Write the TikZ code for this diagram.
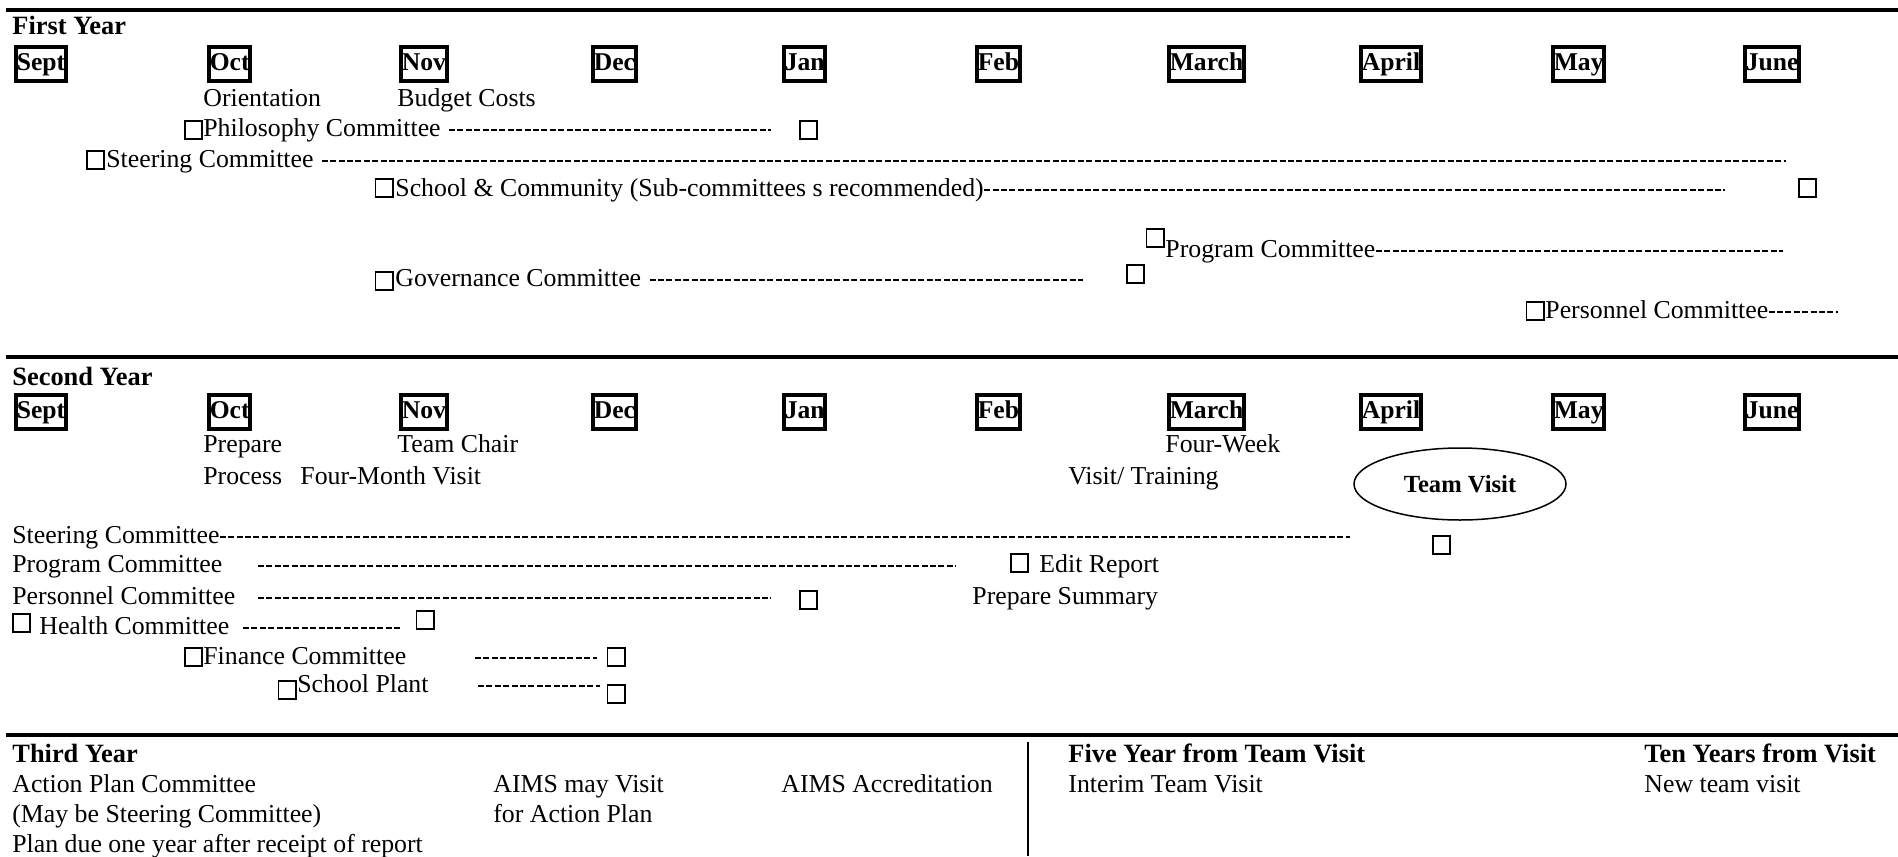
\documentclass[tikz,border=0pt]{standalone}
\usepackage{fontspec}
\setmainfont{Liberation Serif}
\usetikzlibrary{shapes.geometric, positioning}

\begin{document}
\begin{tikzpicture}[x=0.5pt, y=-0.5pt,
  every node/.style={font=\fontsize{12.9}{15}\selectfont},
  lbl/.style={anchor=base west, inner sep=0pt, text height=8pt, text depth=2pt},
  head/.style={lbl, font=\fontsize{13.2}{16}\selectfont\bfseries},
  month/.style={draw, line width=2pt, anchor=west, inner xsep=0.4pt, inner ysep=0pt, minimum height=17pt, text height=9pt, text depth=2.5pt, font=\fontsize{12.8}{15}\selectfont\bfseries},
  chk/.style={draw, line width=0.9pt, minimum width=8.6pt, minimum height=9pt, inner sep=0pt},
  dashes/.style={line width=0.55pt, dash pattern=on 3pt off 1.2pt},
  rule/.style={line width=2.2pt}]
\useasboundingbox (0,0) rectangle (1898,856);

% First year
\draw[rule] (6,10) -- (1898,10);
\node[head] (year1) at (12,35) {First Year};

% Months
\node[month] (sept1) at (14,64) {Sept};
\node[month] (oct1) at (207,64) {Oct};
\node[month] (nov1) at (399,64) {Nov};
\node[month] (dec1) at (591,64) {Dec};
\node[month] (jan1) at (782,64) {Jan};
\node[month] (feb1) at (975,64) {Feb};
\node[month] (mar1) at (1167,64) {March};
\node[month] (apr1) at (1359,64) {April};
\node[month] (may1) at (1551,64) {May};
\node[month] (jun1) at (1743,64) {June};

\node[lbl] (orient) at (203,106) {Orientation};
\node[lbl] (budget) at (397,106) {Budget Costs};

% Committees
\node[chk] (philA) at (193.5,130) {};
\node[lbl] (phil) at (203,136) {Philosophy Committee};
\node[chk] (philB) at (808.5,130) {};
\coordinate (philend) at (771,0);
\draw[dashes] ([xshift=4pt]phil.east) -- (phil.east -| philend);

\node[chk] (steerA) at (95.5,160) {};
\node[lbl] (steer1) at (106,167) {Steering Committee};
\coordinate (steer1end) at (1786,0);
\draw[dashes] ([xshift=4pt]steer1.east) -- (steer1.east -| steer1end);

\node[chk] (schoolA) at (384,188) {};
\node[lbl] (school) at (395,196) {School \& Community (Sub-committees s recommended)};
\node[chk] (schoolB) at (1807.5,188) {};
\coordinate (schoolend) at (1725,0);
\draw[dashes] (school.east) -- (school.east -| schoolend);

\node[chk] (progA) at (1155,238) {};
\node[lbl] (prog1) at (1165,257) {Program Committee};
\coordinate (prog1end) at (1783,0);
\draw[dashes] (prog1.east) -- (prog1.east -| prog1end);

\node[chk] (govA) at (384,281) {};
\node[lbl] (gov) at (395,286) {Governance Committee};
\node[chk] (govB) at (1135.5,274) {};
\coordinate (govend) at (1083,0);
\draw[dashes] ([xshift=4pt]gov.east) -- (gov.east -| govend);

\node[chk] (persA) at (1535,311) {};
\node[lbl] (pers1) at (1545,318) {Personnel Committee};
\coordinate (pers1end) at (1838,0);
\draw[dashes] (pers1.east) -- (pers1.east -| pers1end);

% Second year
\draw[rule] (6,357) -- (1898,357);
\node[head] (year2) at (12,385) {Second Year};

% Months
\node[month] (sept2) at (14,412) {Sept};
\node[month] (oct2) at (207,412) {Oct};
\node[month] (nov2) at (399,412) {Nov};
\node[month] (dec2) at (591,412) {Dec};
\node[month] (jan2) at (782,412) {Jan};
\node[month] (feb2) at (975,412) {Feb};
\node[month] (mar2) at (1167,412) {March};
\node[month] (apr2) at (1359,412) {April};
\node[month] (may2) at (1551,412) {May};
\node[month] (jun2) at (1743,412) {June};

\node[lbl] (prepare) at (203,452) {Prepare};
\node[lbl] (teamchair) at (397,452) {Team Chair};
\node[lbl] (fourweek) at (1165,452) {Four-Week};
\node[lbl] (process) at (203,484) {Process};
\node[lbl] (fourmonth) at (300,484) {Four-Month Visit};
\node[lbl] (training) at (1068,484) {Visit/ Training};

% Team visit
\node[draw, ellipse, line width=0.75pt, minimum width=106pt, minimum height=36pt, font=\fontsize{12.3}{15}\selectfont\bfseries] (teamvisit) at (1460,484) {Team Visit};

% Committees
\node[lbl] (steer2) at (12,543) {Steering Committee};
\node[chk] (steer2B) at (1441.5,545) {};
\coordinate (steer2end) at (1350,0);
\draw[dashes] (steer2.east) -- (steer2.east -| steer2end);

\node[lbl] (prog2) at (12,572) {Program Committee};
\node[chk] (prog2B) at (1019.5,563) {};
\node[lbl] (edit) at (1039,572) {Edit Report};
\coordinate (prog2a) at (258,0);
\coordinate (prog2end) at (956,0);
\draw[dashes] (prog2.east -| prog2a) -- (prog2.east -| prog2end);

\node[lbl] (pers2) at (12,604) {Personnel Committee};
\node[chk] (pers2B) at (808.5,600) {};
\node[lbl] (summary) at (972,604) {Prepare Summary};
\coordinate (pers2a) at (258,0);
\coordinate (pers2end) at (771,0);
\draw[dashes] (pers2.east -| pers2a) -- (pers2.east -| pers2end);

\node[chk] (healthA) at (21.5,623) {};
\node[lbl] (health) at (39,634) {Health Committee};
\node[chk] (healthB) at (425,620) {};
\coordinate (healtha) at (243,0);
\coordinate (healthend) at (400,0);
\draw[dashes] (health.east -| healtha) -- (health.east -| healthend);

\node[chk] (finA) at (193.5,657) {};
\node[lbl] (finance) at (203,664) {Finance Committee};
\node[chk] (finB) at (616,657) {};
\coordinate (fina) at (475,0);
\coordinate (finend) at (597,0);
\draw[dashes] (finance.east -| fina) -- (finance.east -| finend);

\node[chk] (plantA) at (287,690) {};
\node[lbl] (plant) at (297,692) {School Plant};
\node[chk] (plantB) at (616,694) {};
\coordinate (planta) at (478,0);
\coordinate (plantend) at (600,0);
\draw[dashes] (plant.east -| planta) -- (plant.east -| plantend);

% Third year
\draw[rule] (6,735) -- (1898,735);
\draw[line width=1pt] (1028,742) -- (1028,856);
\node[head] (year3) at (12,762) {Third Year};
\node[lbl] (action) at (12,792) {Action Plan Committee};
\node[lbl] (maybe) at (12,822) {(May be Steering Committee)};
\node[lbl] (plandue) at (12,852) {Plan due one year after receipt of report};
\node[lbl] (aimsvisit) at (493,792) {AIMS may Visit};
\node[lbl] (foraction) at (493,822) {for Action Plan};
\node[lbl] (accred) at (781,792) {AIMS Accreditation};

% Later visits
\node[head] (fiveyear) at (1068,762) {Five Year from Team Visit};
\node[lbl] (interim) at (1068,792) {Interim Team Visit};
\node[head] (tenyear) at (1644,762) {Ten Years from Visit};
\node[lbl] (newvisit) at (1644,792) {New team visit};
\end{tikzpicture}
\end{document}
